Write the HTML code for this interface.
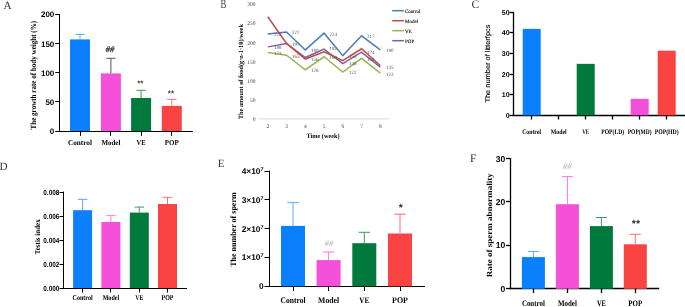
<!DOCTYPE html>
<html><head><meta charset="utf-8"><style>
html,body{margin:0;padding:0;background:#fff;width:685px;height:307px;overflow:hidden;}
svg{display:block;}
</style></head><body>
<svg width="685" height="307" viewBox="0 0 685 307" text-rendering="geometricPrecision" style="will-change:transform">
<text x="3.6" y="9.2" font-size="11.2" font-family='"Liberation Serif", serif' font-weight="normal" text-anchor="start" fill="#333">A</text>
<line x1="59.5" y1="14.1" x2="59.5" y2="132.0" stroke="#000" stroke-width="1.0"/>
<line x1="59.0" y1="131.5" x2="192.8" y2="131.5" stroke="#000" stroke-width="1.0"/>
<line x1="55.2" y1="14.5" x2="59.5" y2="14.5" stroke="#000" stroke-width="1.0"/>
<text x="54.3" y="17.45" font-size="8" font-family='"Liberation Sans", sans-serif' font-weight="bold" text-anchor="end" fill="#000">200</text>
<line x1="55.2" y1="43.5" x2="59.5" y2="43.5" stroke="#000" stroke-width="1.0"/>
<text x="54.3" y="46.550000000000004" font-size="8" font-family='"Liberation Sans", sans-serif' font-weight="bold" text-anchor="end" fill="#000">150</text>
<line x1="55.2" y1="72.5" x2="59.5" y2="72.5" stroke="#000" stroke-width="1.0"/>
<text x="54.3" y="75.64999999999999" font-size="8" font-family='"Liberation Sans", sans-serif' font-weight="bold" text-anchor="end" fill="#000">100</text>
<line x1="55.2" y1="101.5" x2="59.5" y2="101.5" stroke="#000" stroke-width="1.0"/>
<text x="54.3" y="104.75" font-size="8" font-family='"Liberation Sans", sans-serif' font-weight="bold" text-anchor="end" fill="#000">50</text>
<line x1="55.2" y1="131.5" x2="59.5" y2="131.5" stroke="#000" stroke-width="1.0"/>
<text x="54.3" y="133.85" font-size="8" font-family='"Liberation Sans", sans-serif' font-weight="bold" text-anchor="end" fill="#000">0</text>
<rect x="70.0" y="39.4" width="20" height="91.6" fill="#0a80ff"/>
<line x1="80" y1="34.4" x2="80" y2="39.4" stroke="#5ea8ff" stroke-width="1.0"/>
<line x1="75.35" y1="34.4" x2="84.65" y2="34.4" stroke="#5ea8ff" stroke-width="1.0"/>
<line x1="80.5" y1="131.5" x2="80.5" y2="135.8" stroke="#000" stroke-width="1.0"/>
<text x="80" y="144.8" font-size="7.5" font-family='"Liberation Serif", serif' font-weight="bold" text-anchor="middle" fill="#000" textLength="24" lengthAdjust="spacingAndGlyphs">Control</text>
<rect x="100.9" y="73.4" width="20" height="57.599999999999994" fill="#f550da"/>
<line x1="110.9" y1="58.3" x2="110.9" y2="73.4" stroke="#555" stroke-width="1.0"/>
<line x1="106.25" y1="58.3" x2="115.55000000000001" y2="58.3" stroke="#555" stroke-width="1.0"/>
<line x1="110.5" y1="131.5" x2="110.5" y2="135.8" stroke="#000" stroke-width="1.0"/>
<text x="110.9" y="144.8" font-size="7.5" font-family='"Liberation Serif", serif' font-weight="bold" text-anchor="middle" fill="#000" textLength="19" lengthAdjust="spacingAndGlyphs">Model</text>
<rect x="131.1" y="98" width="20" height="33" fill="#007a3c"/>
<line x1="141.1" y1="90.3" x2="141.1" y2="98" stroke="#3c9c58" stroke-width="1.0"/>
<line x1="136.45" y1="90.3" x2="145.75" y2="90.3" stroke="#3c9c58" stroke-width="1.0"/>
<line x1="141.5" y1="131.5" x2="141.5" y2="135.8" stroke="#000" stroke-width="1.0"/>
<text x="141.1" y="144.8" font-size="7.5" font-family='"Liberation Serif", serif' font-weight="bold" text-anchor="middle" fill="#000" textLength="9" lengthAdjust="spacingAndGlyphs">VE</text>
<rect x="161.8" y="105.9" width="20" height="25.099999999999994" fill="#fa4444"/>
<line x1="171.8" y1="99.4" x2="171.8" y2="105.9" stroke="#fd6f6f" stroke-width="1.0"/>
<line x1="167.15" y1="99.4" x2="176.45000000000002" y2="99.4" stroke="#fd6f6f" stroke-width="1.0"/>
<line x1="171.5" y1="131.5" x2="171.5" y2="135.8" stroke="#000" stroke-width="1.0"/>
<text x="171.8" y="144.8" font-size="7.5" font-family='"Liberation Serif", serif' font-weight="bold" text-anchor="middle" fill="#000" textLength="14" lengthAdjust="spacingAndGlyphs">POP</text>
<text x="109.9" y="52.1" font-size="8.5" font-family='"Liberation Serif", serif' font-weight="normal" text-anchor="middle" fill="#222" stroke="#222" stroke-width="0.25" font-style="italic">##</text>
<text x="140.3" y="85.5" font-size="8" font-family='"Liberation Sans", sans-serif' font-weight="bold" text-anchor="middle" fill="#444">**</text>
<text x="170.9" y="96.3" font-size="8" font-family='"Liberation Sans", sans-serif' font-weight="bold" text-anchor="middle" fill="#444">**</text>
<text x="36.3" y="75.2" font-size="8" font-family='"Liberation Serif", serif' font-weight="bold" text-anchor="middle" fill="#000" transform="rotate(-90 36.3 75.2)" textLength="108.5" lengthAdjust="spacingAndGlyphs">The growth rate of body weight (%)</text>
<text x="220.6" y="8.2" font-size="12.5" font-family='"Liberation Serif", serif' font-weight="normal" text-anchor="start" fill="#444" textLength="5.8" lengthAdjust="spacingAndGlyphs">B</text>
<text x="255.6" y="120.7" font-size="5.5" font-family='"Liberation Serif", serif' font-weight="normal" text-anchor="end" fill="#444">0</text>
<text x="255.6" y="101.65" font-size="5.5" font-family='"Liberation Serif", serif' font-weight="normal" text-anchor="end" fill="#444">50</text>
<text x="255.6" y="82.60000000000001" font-size="5.5" font-family='"Liberation Serif", serif' font-weight="normal" text-anchor="end" fill="#444">100</text>
<text x="255.6" y="63.550000000000004" font-size="5.5" font-family='"Liberation Serif", serif' font-weight="normal" text-anchor="end" fill="#444">150</text>
<text x="255.6" y="44.5" font-size="5.5" font-family='"Liberation Serif", serif' font-weight="normal" text-anchor="end" fill="#444">200</text>
<text x="255.6" y="25.45" font-size="5.5" font-family='"Liberation Serif", serif' font-weight="normal" text-anchor="end" fill="#444">250</text>
<text x="255.6" y="6.400000000000003" font-size="5.5" font-family='"Liberation Serif", serif' font-weight="normal" text-anchor="end" fill="#444">300</text>
<line x1="258.7" y1="118.8" x2="389.4" y2="118.8" stroke="#e2e2e2" stroke-width="1.2"/>
<text x="267.8" y="128.3" font-size="5.5" font-family='"Liberation Serif", serif' font-weight="normal" text-anchor="middle" fill="#444">2</text>
<text x="286.55" y="128.3" font-size="5.5" font-family='"Liberation Serif", serif' font-weight="normal" text-anchor="middle" fill="#444">3</text>
<text x="305.3" y="128.3" font-size="5.5" font-family='"Liberation Serif", serif' font-weight="normal" text-anchor="middle" fill="#444">4</text>
<text x="324.05" y="128.3" font-size="5.5" font-family='"Liberation Serif", serif' font-weight="normal" text-anchor="middle" fill="#444">5</text>
<text x="342.8" y="128.3" font-size="5.5" font-family='"Liberation Serif", serif' font-weight="normal" text-anchor="middle" fill="#444">6</text>
<text x="361.55" y="128.3" font-size="5.5" font-family='"Liberation Serif", serif' font-weight="normal" text-anchor="middle" fill="#444">7</text>
<text x="380.3" y="128.3" font-size="5.5" font-family='"Liberation Serif", serif' font-weight="normal" text-anchor="middle" fill="#444">8</text>
<text x="323" y="138.2" font-size="6.6" font-family='"Liberation Serif", serif' font-weight="bold" text-anchor="middle" fill="#000" textLength="33" lengthAdjust="spacingAndGlyphs">Time  (week)</text>
<text x="243" y="71.6" font-size="6.5" font-family='"Liberation Serif", serif' font-weight="bold" text-anchor="middle" fill="#000" transform="rotate(-90 243 71.6)" textLength="95" lengthAdjust="spacingAndGlyphs">The amount of food(g·n-1·10)/week</text>
<polyline points="267.8,33.92 286.55,32.01 305.3,49.92 324.05,33.16 342.8,55.63 361.55,35.82 380.3,49.92" fill="none" stroke="#4a7ebb" stroke-width="1.5" stroke-linejoin="miter"/>
<polyline points="267.8,52.59 286.55,55.25 305.3,69.73 324.05,56.78 342.8,72.02 361.55,58.3 380.3,73.16" fill="none" stroke="#98b954" stroke-width="1.5" stroke-linejoin="miter"/>
<polyline points="267.8,46.87 286.55,43.44 305.3,57.54 324.05,49.16 342.8,63.64 361.55,52.21 380.3,67.06" fill="none" stroke="#7d60a0" stroke-width="1.5" stroke-linejoin="miter"/>
<polyline points="267.8,16.77 286.55,43.44 305.3,59.06 324.05,51.83 342.8,60.59 361.55,48.78 380.3,65.54" fill="none" stroke="#be4b48" stroke-width="1.5" stroke-linejoin="miter"/>
<text x="274" y="36.0" font-size="5" font-family='"Liberation Serif", serif' font-weight="normal" text-anchor="start" fill="#555">222</text>
<text x="292" y="34.0" font-size="5" font-family='"Liberation Serif", serif' font-weight="normal" text-anchor="start" fill="#555">227</text>
<text x="311" y="51.6" font-size="5" font-family='"Liberation Serif", serif' font-weight="normal" text-anchor="start" fill="#555">180</text>
<text x="329.5" y="35.5" font-size="5" font-family='"Liberation Serif", serif' font-weight="normal" text-anchor="start" fill="#555">224</text>
<text x="367" y="38.300000000000004" font-size="5" font-family='"Liberation Serif", serif' font-weight="normal" text-anchor="start" fill="#555">217</text>
<text x="386" y="52.300000000000004" font-size="5" font-family='"Liberation Serif", serif' font-weight="normal" text-anchor="start" fill="#555">180</text>
<text x="274" y="48.7" font-size="5" font-family='"Liberation Serif", serif' font-weight="normal" text-anchor="start" fill="#555">188</text>
<text x="274" y="54.7" font-size="5" font-family='"Liberation Serif", serif' font-weight="normal" text-anchor="start" fill="#555">173</text>
<text x="292" y="45.7" font-size="5" font-family='"Liberation Serif", serif' font-weight="normal" text-anchor="start" fill="#555">197</text>
<text x="292" y="57.7" font-size="5" font-family='"Liberation Serif", serif' font-weight="normal" text-anchor="start" fill="#555">165</text>
<text x="311" y="61.400000000000006" font-size="5" font-family='"Liberation Serif", serif' font-weight="normal" text-anchor="start" fill="#555">156</text>
<text x="311" y="71.5" font-size="5" font-family='"Liberation Serif", serif' font-weight="normal" text-anchor="start" fill="#555">128</text>
<text x="329.5" y="50.2" font-size="5" font-family='"Liberation Serif", serif' font-weight="normal" text-anchor="start" fill="#555">182</text>
<text x="329.5" y="59.2" font-size="5" font-family='"Liberation Serif", serif' font-weight="normal" text-anchor="start" fill="#555">168</text>
<text x="349" y="57.5" font-size="5" font-family='"Liberation Serif", serif' font-weight="normal" text-anchor="start" fill="#555">155</text>
<text x="349" y="64.8" font-size="5" font-family='"Liberation Serif", serif' font-weight="normal" text-anchor="start" fill="#555">146</text>
<text x="349" y="73.60000000000001" font-size="5" font-family='"Liberation Serif", serif' font-weight="normal" text-anchor="start" fill="#555">122</text>
<text x="367" y="54.1" font-size="5" font-family='"Liberation Serif", serif' font-weight="normal" text-anchor="start" fill="#555">174</text>
<text x="367" y="60.7" font-size="5" font-family='"Liberation Serif", serif' font-weight="normal" text-anchor="start" fill="#555">168</text>
<text x="386" y="68.7" font-size="5" font-family='"Liberation Serif", serif' font-weight="normal" text-anchor="start" fill="#555">135</text>
<text x="386" y="75.9" font-size="5" font-family='"Liberation Serif", serif' font-weight="normal" text-anchor="start" fill="#555">123</text>
<line x1="392.2" y1="10.7" x2="403.9" y2="10.7" stroke="#4a7ebb" stroke-width="1.5"/>
<text x="405" y="12.5" font-size="5.0" font-family='"Liberation Serif", serif' font-weight="normal" text-anchor="start" fill="#222" stroke="#222" stroke-width="0.15">Control</text>
<line x1="392.2" y1="20.7" x2="403.9" y2="20.7" stroke="#be4b48" stroke-width="1.5"/>
<text x="405" y="22.5" font-size="5.0" font-family='"Liberation Serif", serif' font-weight="normal" text-anchor="start" fill="#222" stroke="#222" stroke-width="0.15">Model</text>
<line x1="392.2" y1="30.7" x2="403.9" y2="30.7" stroke="#98b954" stroke-width="1.5"/>
<text x="405" y="32.5" font-size="5.0" font-family='"Liberation Serif", serif' font-weight="normal" text-anchor="start" fill="#222" stroke="#222" stroke-width="0.15">VE</text>
<line x1="392.2" y1="40.7" x2="403.9" y2="40.7" stroke="#7d60a0" stroke-width="1.5"/>
<text x="405" y="42.5" font-size="5.0" font-family='"Liberation Serif", serif' font-weight="normal" text-anchor="start" fill="#222" stroke="#222" stroke-width="0.15">POP</text>
<text x="471.4" y="8.1" font-size="11.5" font-family='"Liberation Serif", serif' font-weight="normal" text-anchor="start" fill="#333">C</text>
<line x1="513.5" y1="11.9" x2="513.5" y2="116.15" stroke="#000" stroke-width="1.3"/>
<line x1="512.85" y1="115.5" x2="685" y2="115.5" stroke="#000" stroke-width="1.3"/>
<line x1="509.5" y1="12.5" x2="513.5" y2="12.5" stroke="#000" stroke-width="1.3"/>
<text x="509.6" y="14.899999999999991" font-size="7" font-family='"Liberation Sans", sans-serif' font-weight="bold" text-anchor="end" fill="#000">50</text>
<line x1="509.5" y1="32.5" x2="513.5" y2="32.5" stroke="#000" stroke-width="1.3"/>
<text x="509.6" y="35.480000000000004" font-size="7" font-family='"Liberation Sans", sans-serif' font-weight="bold" text-anchor="end" fill="#000">40</text>
<line x1="509.5" y1="53.5" x2="513.5" y2="53.5" stroke="#000" stroke-width="1.3"/>
<text x="509.6" y="56.06000000000001" font-size="7" font-family='"Liberation Sans", sans-serif' font-weight="bold" text-anchor="end" fill="#000">30</text>
<line x1="509.5" y1="74.5" x2="513.5" y2="74.5" stroke="#000" stroke-width="1.3"/>
<text x="509.6" y="76.64" font-size="7" font-family='"Liberation Sans", sans-serif' font-weight="bold" text-anchor="end" fill="#000">20</text>
<line x1="509.5" y1="94.5" x2="513.5" y2="94.5" stroke="#000" stroke-width="1.3"/>
<text x="509.6" y="97.22" font-size="7" font-family='"Liberation Sans", sans-serif' font-weight="bold" text-anchor="end" fill="#000">10</text>
<line x1="509.5" y1="115.5" x2="513.5" y2="115.5" stroke="#000" stroke-width="1.3"/>
<text x="509.6" y="117.8" font-size="7" font-family='"Liberation Sans", sans-serif' font-weight="bold" text-anchor="end" fill="#000">0</text>
<rect x="522.7" y="28.86400000000002" width="18" height="86.43599999999998" fill="#0a80ff"/>
<line x1="531.5" y1="115.5" x2="531.5" y2="119.5" stroke="#000" stroke-width="1.3"/>
<text x="531.7" y="133.9" font-size="7" font-family='"Liberation Serif", serif' font-weight="bold" text-anchor="middle" fill="#000" textLength="19" lengthAdjust="spacingAndGlyphs">Control</text>
<line x1="558.5" y1="115.5" x2="558.5" y2="119.5" stroke="#000" stroke-width="1.3"/>
<text x="558.7" y="133.9" font-size="7" font-family='"Liberation Serif", serif' font-weight="bold" text-anchor="middle" fill="#000" textLength="16" lengthAdjust="spacingAndGlyphs">Model</text>
<rect x="576.7" y="63.849999999999994" width="18" height="51.45" fill="#007a3c"/>
<line x1="585.5" y1="115.5" x2="585.5" y2="119.5" stroke="#000" stroke-width="1.3"/>
<text x="585.7" y="133.9" font-size="7" font-family='"Liberation Serif", serif' font-weight="bold" text-anchor="middle" fill="#000" textLength="7" lengthAdjust="spacingAndGlyphs">VE</text>
<line x1="612.5" y1="115.5" x2="612.5" y2="119.5" stroke="#000" stroke-width="1.3"/>
<text x="612.7" y="133.9" font-size="7" font-family='"Liberation Serif", serif' font-weight="bold" text-anchor="middle" fill="#000" textLength="23" lengthAdjust="spacingAndGlyphs">POP(LD)</text>
<rect x="630.7" y="98.836" width="18" height="16.464" fill="#f550da"/>
<line x1="639.5" y1="115.5" x2="639.5" y2="119.5" stroke="#000" stroke-width="1.3"/>
<text x="639.7" y="133.9" font-size="7" font-family='"Liberation Serif", serif' font-weight="bold" text-anchor="middle" fill="#000" textLength="24" lengthAdjust="spacingAndGlyphs">POP(MD)</text>
<rect x="657.7" y="50.67880000000001" width="18" height="64.62119999999999" fill="#fa4444"/>
<line x1="666.5" y1="115.5" x2="666.5" y2="119.5" stroke="#000" stroke-width="1.3"/>
<text x="666.7" y="133.9" font-size="7" font-family='"Liberation Serif", serif' font-weight="bold" text-anchor="middle" fill="#000" textLength="24" lengthAdjust="spacingAndGlyphs">POP(HD)</text>
<text x="490.5" y="63.55" font-size="7" font-family='"Liberation Sans", sans-serif' font-weight="normal" text-anchor="middle" fill="#000" transform="rotate(-90 490.5 63.55)" textLength="78" lengthAdjust="spacingAndGlyphs" stroke="#000" stroke-width="0.12">The number of litterfpcs</text>
<text x="-0.6" y="170.2" font-size="11.2" font-family='"Liberation Serif", serif' font-weight="normal" text-anchor="start" fill="#333">D</text>
<line x1="63.5" y1="191.6" x2="63.5" y2="289.0" stroke="#000" stroke-width="1.0"/>
<line x1="63.0" y1="288.5" x2="187" y2="288.5" stroke="#000" stroke-width="1.0"/>
<line x1="59.5" y1="192.5" x2="63.5" y2="192.5" stroke="#000" stroke-width="1.0"/>
<text x="59.3" y="194.75" font-size="7.4" font-family='"Liberation Sans", sans-serif' font-weight="bold" text-anchor="end" fill="#000" textLength="16" lengthAdjust="spacingAndGlyphs">0.008</text>
<line x1="59.5" y1="216.5" x2="63.5" y2="216.5" stroke="#000" stroke-width="1.0"/>
<text x="59.3" y="218.725" font-size="7.4" font-family='"Liberation Sans", sans-serif' font-weight="bold" text-anchor="end" fill="#000" textLength="16" lengthAdjust="spacingAndGlyphs">0.006</text>
<line x1="59.5" y1="240.5" x2="63.5" y2="240.5" stroke="#000" stroke-width="1.0"/>
<text x="59.3" y="242.70000000000002" font-size="7.4" font-family='"Liberation Sans", sans-serif' font-weight="bold" text-anchor="end" fill="#000" textLength="16" lengthAdjust="spacingAndGlyphs">0.004</text>
<line x1="59.5" y1="264.5" x2="63.5" y2="264.5" stroke="#000" stroke-width="1.0"/>
<text x="59.3" y="266.67499999999995" font-size="7.4" font-family='"Liberation Sans", sans-serif' font-weight="bold" text-anchor="end" fill="#000" textLength="16" lengthAdjust="spacingAndGlyphs">0.002</text>
<line x1="59.5" y1="288.5" x2="63.5" y2="288.5" stroke="#000" stroke-width="1.0"/>
<text x="59.3" y="290.65" font-size="7.4" font-family='"Liberation Sans", sans-serif' font-weight="bold" text-anchor="end" fill="#000" textLength="16" lengthAdjust="spacingAndGlyphs">0.000</text>
<rect x="73.1" y="210.2" width="19" height="77.80000000000001" fill="#0a80ff"/>
<line x1="82.6" y1="199.4" x2="82.6" y2="210.2" stroke="#5ea8ff" stroke-width="1.0"/>
<line x1="77.85" y1="199.4" x2="87.35" y2="199.4" stroke="#5ea8ff" stroke-width="1.0"/>
<line x1="82.5" y1="288.5" x2="82.5" y2="292.5" stroke="#000" stroke-width="1.0"/>
<text x="82.6" y="299.9" font-size="7.4" font-family='"Liberation Serif", serif' font-weight="bold" text-anchor="middle" fill="#000" textLength="20" lengthAdjust="spacingAndGlyphs">Control</text>
<rect x="101.4" y="222" width="19" height="66" fill="#f550da"/>
<line x1="110.9" y1="215.6" x2="110.9" y2="222" stroke="#f77be3" stroke-width="1.0"/>
<line x1="106.15" y1="215.6" x2="115.65" y2="215.6" stroke="#f77be3" stroke-width="1.0"/>
<line x1="110.5" y1="288.5" x2="110.5" y2="292.5" stroke="#000" stroke-width="1.0"/>
<text x="110.9" y="299.9" font-size="7.4" font-family='"Liberation Serif", serif' font-weight="bold" text-anchor="middle" fill="#000" textLength="16.5" lengthAdjust="spacingAndGlyphs">Model</text>
<rect x="129.8" y="212.6" width="19" height="75.4" fill="#007a3c"/>
<line x1="139.3" y1="207.1" x2="139.3" y2="212.6" stroke="#3c9c58" stroke-width="1.0"/>
<line x1="134.55" y1="207.1" x2="144.05" y2="207.1" stroke="#3c9c58" stroke-width="1.0"/>
<line x1="139.5" y1="288.5" x2="139.5" y2="292.5" stroke="#000" stroke-width="1.0"/>
<text x="139.3" y="299.9" font-size="7.4" font-family='"Liberation Serif", serif' font-weight="bold" text-anchor="middle" fill="#000" textLength="8" lengthAdjust="spacingAndGlyphs">VE</text>
<rect x="158.0" y="204" width="19" height="84" fill="#fa4444"/>
<line x1="167.5" y1="197.3" x2="167.5" y2="204" stroke="#fd6f6f" stroke-width="1.0"/>
<line x1="162.75" y1="197.3" x2="172.25" y2="197.3" stroke="#fd6f6f" stroke-width="1.0"/>
<line x1="167.5" y1="288.5" x2="167.5" y2="292.5" stroke="#000" stroke-width="1.0"/>
<text x="167.5" y="299.9" font-size="7.4" font-family='"Liberation Serif", serif' font-weight="bold" text-anchor="middle" fill="#000" textLength="12" lengthAdjust="spacingAndGlyphs">POP</text>
<text x="40.4" y="236.8" font-size="7.6" font-family='"Liberation Serif", serif' font-weight="bold" text-anchor="middle" fill="#000" transform="rotate(-90 40.4 236.8)" textLength="34.9" lengthAdjust="spacingAndGlyphs">Testis index</text>
<text x="217.8" y="167.3" font-size="11" font-family='"Liberation Serif", serif' font-weight="normal" text-anchor="start" fill="#333">E</text>
<line x1="269.5" y1="170.6" x2="269.5" y2="287.0" stroke="#000" stroke-width="1.0"/>
<line x1="269.0" y1="286.5" x2="425" y2="286.5" stroke="#000" stroke-width="1.0"/>
<line x1="264.5" y1="171.5" x2="269.5" y2="171.5" stroke="#000" stroke-width="1.0"/>
<text x="263.6" y="174.0" font-size="8.4" font-family='"Liberation Sans", sans-serif' font-weight="bold" text-anchor="end" fill="#000">4×10<tspan font-size="5.5" dy="-3">7</tspan></text>
<line x1="264.5" y1="199.5" x2="269.5" y2="199.5" stroke="#000" stroke-width="1.0"/>
<text x="263.6" y="202.8" font-size="8.4" font-family='"Liberation Sans", sans-serif' font-weight="bold" text-anchor="end" fill="#000">3×10<tspan font-size="5.5" dy="-3">7</tspan></text>
<line x1="264.5" y1="228.5" x2="269.5" y2="228.5" stroke="#000" stroke-width="1.0"/>
<text x="263.6" y="231.6" font-size="8.4" font-family='"Liberation Sans", sans-serif' font-weight="bold" text-anchor="end" fill="#000">2×10<tspan font-size="5.5" dy="-3">7</tspan></text>
<line x1="264.5" y1="257.5" x2="269.5" y2="257.5" stroke="#000" stroke-width="1.0"/>
<text x="263.6" y="260.4" font-size="8.4" font-family='"Liberation Sans", sans-serif' font-weight="bold" text-anchor="end" fill="#000">1×10<tspan font-size="5.5" dy="-3">7</tspan></text>
<line x1="264.5" y1="286.5" x2="269.5" y2="286.5" stroke="#000" stroke-width="1.0"/>
<text x="263.6" y="289.2" font-size="8.4" font-family='"Liberation Sans", sans-serif' font-weight="bold" text-anchor="end" fill="#000">0</text>
<rect x="281.0" y="225.9" width="24" height="60.400000000000006" fill="#0a80ff"/>
<line x1="293" y1="202.6" x2="293" y2="225.9" stroke="#5ea8ff" stroke-width="1.0"/>
<line x1="287.25" y1="202.6" x2="298.75" y2="202.6" stroke="#5ea8ff" stroke-width="1.0"/>
<line x1="293.5" y1="286.5" x2="293.5" y2="291.0" stroke="#000" stroke-width="1.0"/>
<text x="293" y="302.7" font-size="8.6" font-family='"Liberation Serif", serif' font-weight="bold" text-anchor="middle" fill="#000" textLength="25" lengthAdjust="spacingAndGlyphs">Control</text>
<rect x="316.6" y="260.1" width="24" height="26.19999999999999" fill="#f550da"/>
<line x1="328.6" y1="252.1" x2="328.6" y2="260.1" stroke="#f77be3" stroke-width="1.0"/>
<line x1="322.85" y1="252.1" x2="334.35" y2="252.1" stroke="#f77be3" stroke-width="1.0"/>
<line x1="328.5" y1="286.5" x2="328.5" y2="291.0" stroke="#000" stroke-width="1.0"/>
<text x="328.6" y="302.7" font-size="8.6" font-family='"Liberation Serif", serif' font-weight="bold" text-anchor="middle" fill="#000" textLength="21" lengthAdjust="spacingAndGlyphs">Model</text>
<rect x="352.3" y="243.2" width="24" height="43.10000000000002" fill="#007a3c"/>
<line x1="364.3" y1="232.3" x2="364.3" y2="243.2" stroke="#3c9c58" stroke-width="1.0"/>
<line x1="358.55" y1="232.3" x2="370.05" y2="232.3" stroke="#3c9c58" stroke-width="1.0"/>
<line x1="364.5" y1="286.5" x2="364.5" y2="291.0" stroke="#000" stroke-width="1.0"/>
<text x="364.3" y="302.7" font-size="8.6" font-family='"Liberation Serif", serif' font-weight="bold" text-anchor="middle" fill="#000" textLength="10" lengthAdjust="spacingAndGlyphs">VE</text>
<rect x="388.0" y="233.5" width="24" height="52.80000000000001" fill="#fa4444"/>
<line x1="400" y1="214.2" x2="400" y2="233.5" stroke="#fd6f6f" stroke-width="1.0"/>
<line x1="394.25" y1="214.2" x2="405.75" y2="214.2" stroke="#fd6f6f" stroke-width="1.0"/>
<line x1="400.5" y1="286.5" x2="400.5" y2="291.0" stroke="#000" stroke-width="1.0"/>
<text x="400" y="302.7" font-size="8.6" font-family='"Liberation Serif", serif' font-weight="bold" text-anchor="middle" fill="#000" textLength="16" lengthAdjust="spacingAndGlyphs">POP</text>
<text x="329.1" y="246.3" font-size="8.5" font-family='"Liberation Serif", serif' font-weight="normal" text-anchor="middle" fill="#aaa" font-style="italic">##</text>
<text x="400.7" y="210.6" font-size="10.5" font-family='"Liberation Sans", sans-serif' font-weight="bold" text-anchor="middle" fill="#333">*</text>
<text x="236" y="229.6" font-size="8" font-family='"Liberation Serif", serif' font-weight="bold" text-anchor="middle" fill="#000" transform="rotate(-90 236 229.6)" textLength="74.5" lengthAdjust="spacingAndGlyphs">The number of sperm</text>
<text x="470.1" y="161.9" font-size="11.4" font-family='"Liberation Serif", serif' font-weight="normal" text-anchor="start" fill="#333">F</text>
<line x1="510.5" y1="158.0" x2="510.5" y2="289.15" stroke="#000" stroke-width="1.3"/>
<line x1="509.85" y1="288.5" x2="659.2" y2="288.5" stroke="#000" stroke-width="1.3"/>
<line x1="506.0" y1="158.5" x2="510.5" y2="158.5" stroke="#000" stroke-width="1.3"/>
<text x="505.3" y="161.6" font-size="8.6" font-family='"Liberation Sans", sans-serif' font-weight="bold" text-anchor="end" fill="#000">30</text>
<line x1="506.0" y1="201.5" x2="510.5" y2="201.5" stroke="#000" stroke-width="1.3"/>
<text x="505.3" y="205.03333333333333" font-size="8.6" font-family='"Liberation Sans", sans-serif' font-weight="bold" text-anchor="end" fill="#000">20</text>
<line x1="506.0" y1="245.5" x2="510.5" y2="245.5" stroke="#000" stroke-width="1.3"/>
<text x="505.3" y="248.46666666666667" font-size="8.6" font-family='"Liberation Sans", sans-serif' font-weight="bold" text-anchor="end" fill="#000">10</text>
<line x1="506.0" y1="288.5" x2="510.5" y2="288.5" stroke="#000" stroke-width="1.3"/>
<text x="505.3" y="291.90000000000003" font-size="8.6" font-family='"Liberation Sans", sans-serif' font-weight="bold" text-anchor="end" fill="#000">0</text>
<rect x="521.9" y="257.1" width="23" height="31.69999999999999" fill="#0a80ff"/>
<line x1="533.4" y1="251.5" x2="533.4" y2="257.1" stroke="#5ea8ff" stroke-width="1.0"/>
<line x1="527.9" y1="251.5" x2="538.9" y2="251.5" stroke="#5ea8ff" stroke-width="1.0"/>
<line x1="533.5" y1="288.5" x2="533.5" y2="293.0" stroke="#000" stroke-width="1.3"/>
<text x="533.4" y="306.4" font-size="8.3" font-family='"Liberation Serif", serif' font-weight="bold" text-anchor="middle" fill="#000" textLength="23" lengthAdjust="spacingAndGlyphs">Control</text>
<rect x="555.9" y="204.2" width="23" height="84.60000000000002" fill="#f550da"/>
<line x1="567.4" y1="176.6" x2="567.4" y2="204.2" stroke="#f77be3" stroke-width="1.0"/>
<line x1="561.9" y1="176.6" x2="572.9" y2="176.6" stroke="#f77be3" stroke-width="1.0"/>
<line x1="567.5" y1="288.5" x2="567.5" y2="293.0" stroke="#000" stroke-width="1.3"/>
<text x="567.4" y="306.4" font-size="8.3" font-family='"Liberation Serif", serif' font-weight="bold" text-anchor="middle" fill="#000" textLength="19" lengthAdjust="spacingAndGlyphs">Model</text>
<rect x="589.9" y="226.1" width="23" height="62.70000000000002" fill="#007a3c"/>
<line x1="601.4" y1="217.5" x2="601.4" y2="226.1" stroke="#3c9c58" stroke-width="1.0"/>
<line x1="595.9" y1="217.5" x2="606.9" y2="217.5" stroke="#3c9c58" stroke-width="1.0"/>
<line x1="601.5" y1="288.5" x2="601.5" y2="293.0" stroke="#000" stroke-width="1.3"/>
<text x="601.4" y="306.4" font-size="8.3" font-family='"Liberation Serif", serif' font-weight="bold" text-anchor="middle" fill="#000" textLength="9" lengthAdjust="spacingAndGlyphs">VE</text>
<rect x="623.8" y="244.3" width="23" height="44.5" fill="#fa4444"/>
<line x1="635.3" y1="234.3" x2="635.3" y2="244.3" stroke="#fd6f6f" stroke-width="1.0"/>
<line x1="629.8" y1="234.3" x2="640.8" y2="234.3" stroke="#fd6f6f" stroke-width="1.0"/>
<line x1="635.5" y1="288.5" x2="635.5" y2="293.0" stroke="#000" stroke-width="1.3"/>
<text x="635.3" y="306.4" font-size="8.3" font-family='"Liberation Serif", serif' font-weight="bold" text-anchor="middle" fill="#000" textLength="14" lengthAdjust="spacingAndGlyphs">POP</text>
<text x="567.2" y="168.7" font-size="9" font-family='"Liberation Serif", serif' font-weight="normal" text-anchor="middle" fill="#aaa" font-style="italic">##</text>
<text x="635.9" y="227.2" font-size="10.5" font-family='"Liberation Sans", sans-serif' font-weight="bold" text-anchor="middle" fill="#333">**</text>
<text x="492.4" y="225.3" font-size="7.8" font-family='"Liberation Serif", serif' font-weight="bold" text-anchor="middle" fill="#000" transform="rotate(-90 492.4 225.3)" textLength="104" lengthAdjust="spacingAndGlyphs">Rate of sperm abnormality</text>
</svg>
</body></html>
